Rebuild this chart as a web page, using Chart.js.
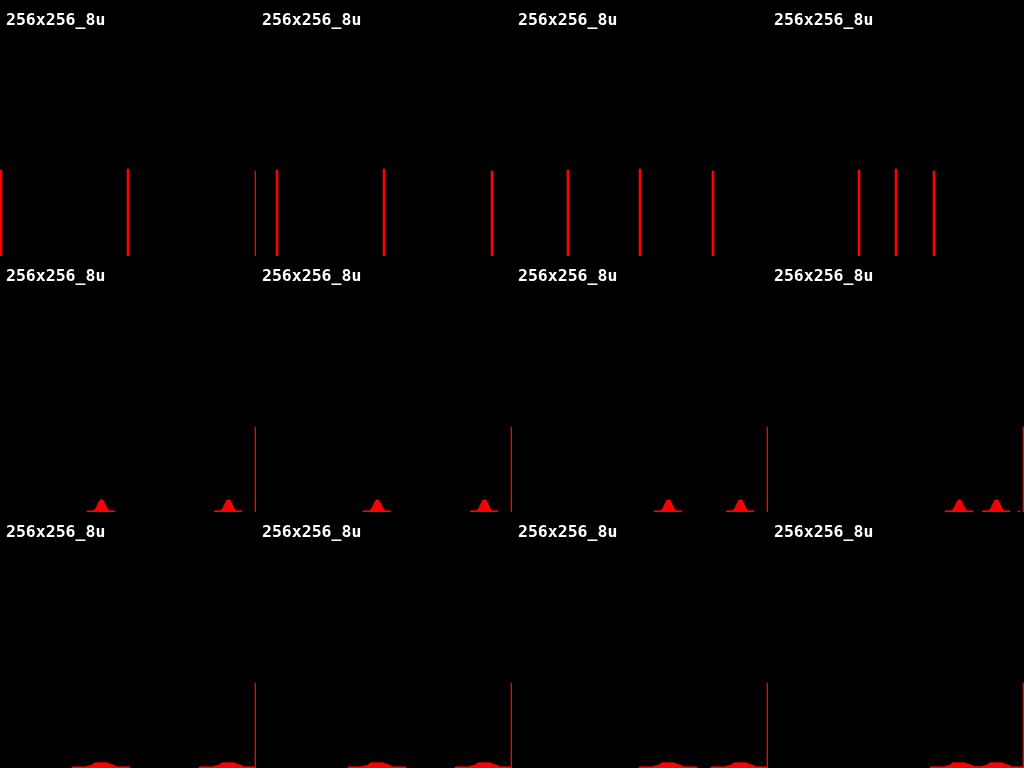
<!DOCTYPE html>
<html><head><meta charset="utf-8">
<script src="https://cdn.jsdelivr.net/npm/chart.js@4/dist/chart.umd.min.js"></script>
<style>
html,body{margin:0;padding:0;background:#000;width:1024px;height:768px;overflow:hidden}
.panel{position:absolute;width:256px;height:256px}
.panel canvas{position:absolute;left:0;top:0}
.ttl{position:absolute;left:6px;top:12px;color:#fff;font-family:"DejaVu Sans Mono",monospace;font-weight:bold;font-size:16.5px;line-height:16px;white-space:nowrap}
</style></head><body>
<script>
// Titles of the 12 panels (4 columns x 3 rows)
const panelTitles = [
  "256x256_8u","256x256_8u","256x256_8u","256x256_8u",
  "256x256_8u","256x256_8u","256x256_8u","256x256_8u",
  "256x256_8u","256x256_8u","256x256_8u","256x256_8u"
];

// Row 1: isolated spikes (bin index, bar height)
const row1Bins = [[0,127,255],[20,127,235],[55,127,200],[90,127,165]];
const row1Vals = [[86,87,85],[86,87,85],[86,87,85],[86,87,85]];

// Rows 2 and 3: peak bins of the two bumps in each column
const bumpCenters = [[100,227],[120,227],[155,227],[190,227]];

// Row 2 bump profile (narrow), bins -13..+13 around centre
const narrowBump = [1,1,1,1,1,1,1,2,3,5,7,9,11,12,12,11,9,7,5,3,2,1,1,1,1,1,1];
// Row 3 bump profile (wide), bins -28..+28 around centre
const wideBump = [1,1,1,1,1,1,1,1,1,1,1,1,1,1,1,
                  2,2,2,2,3,3,4,
                  5,5,5,5,5,5,5,5,5,5,5,5,5,
                  4,4,4,3,3,3,2,2,
                  1,1,1,1,1,1,1,1,1,1,1,1,1,1];

// Saturation spike at bin 255 in rows 2 and 3
const spikeBins = [255];
const spikeVals = [85];
// extra small bins seen in row 2, column 4
const row2Col4ExtraBins = [250];
const row2Col4ExtraVals = [1];

function pointsFrom(bins, vals){ return bins.map((b,i)=>({x:b,y:vals[i]})); }
function bumpPoints(center, profile){
  const half = (profile.length-1)/2;
  return profile.map((v,i)=>({x:center-half+i,y:v}));
}

function makePanel(idx, points){
  const col = idx % 4, row = Math.floor(idx/4);
  const div = document.createElement('div');
  div.className='panel';
  div.style.left=(col*256)+'px'; div.style.top=(row*256)+'px';
  const cv = document.createElement('canvas');
  cv.width=256; cv.height=256; cv.style.width='256px'; cv.style.height='256px';
  div.appendChild(cv);
  const t = document.createElement('div');
  t.className='ttl'; t.textContent=panelTitles[idx];
  div.appendChild(t);
  document.body.appendChild(div);
  new Chart(cv.getContext('2d'), {
    type:'bar',
    data:{datasets:[{data:points,backgroundColor:'#ff0000',borderWidth:0,barThickness:2,grouped:false}]},
    options:{
      responsive:false, animation:false, devicePixelRatio:1,
      layout:{padding:0},
      scales:{
        x:{type:'linear',min:-1,max:255,offset:false,bounds:'data',display:false},
        y:{min:0,max:256,display:false}
      },
      plugins:{legend:{display:false},tooltip:{enabled:false},title:{display:false}}
    }
  });
}

for(let c=0;c<4;c++){
  makePanel(c, pointsFrom(row1Bins[c], row1Vals[c]));
}
for(let c=0;c<4;c++){
  let pts = [];
  bumpCenters[c].forEach(ce=>{ pts = pts.concat(bumpPoints(ce, narrowBump)); });
  pts = pts.concat(pointsFrom(spikeBins, spikeVals));
  if(c===3) pts = pts.concat(pointsFrom(row2Col4ExtraBins, row2Col4ExtraVals));
  makePanel(4+c, pts);
}
for(let c=0;c<4;c++){
  let pts = [];
  bumpCenters[c].forEach(ce=>{ pts = pts.concat(bumpPoints(ce, wideBump)); });
  pts = pts.concat(pointsFrom(spikeBins, spikeVals));
  makePanel(8+c, pts);
}
</script>
</body></html>
